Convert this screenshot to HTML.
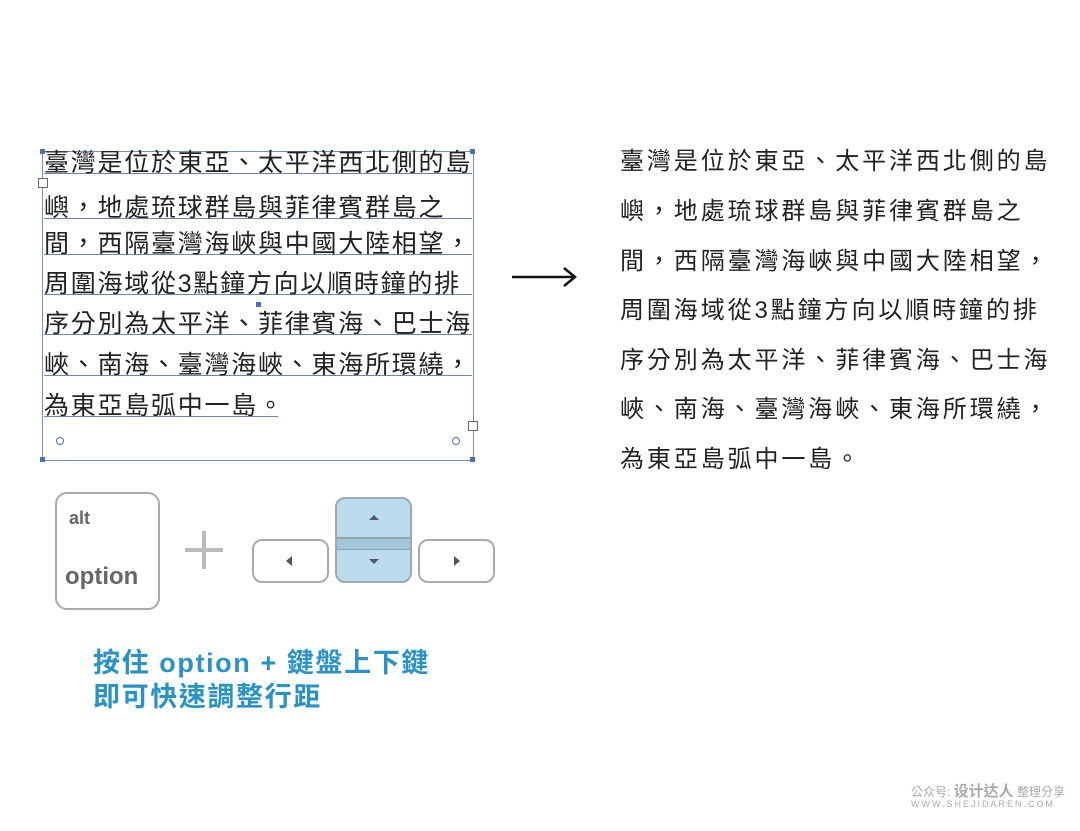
<!DOCTYPE html>
<html><head><meta charset="utf-8"><style>
body{margin:0;width:1080px;height:831px;background:#fff;position:relative;overflow:hidden;font-family:"Liberation Sans","Noto Sans CJK TC",sans-serif}
.a{position:absolute}
.lt div{position:absolute;left:44px;height:20px;line-height:20px;font-size:25px;letter-spacing:1.75px;color:#222;white-space:nowrap;border-bottom:1.5px solid #6f86a8;width:428px}
.rt div{position:absolute;left:620px;font-size:24px;letter-spacing:2.9px;color:#222;white-space:nowrap;line-height:30px}
.h{position:absolute;width:5px;height:5px;background:#4c72b0}
.key{position:absolute;border:2.5px solid #aaa;border-radius:10px;background:#fff;box-sizing:border-box}
</style></head><body>
<div class="a" style="left:42px;top:151px;width:430px;height:308px;border:1px solid #7a90b5"></div>
<div class="h" style="left:40px;top:149px"></div><div class="h" style="left:470px;top:149px"></div>
<div class="h" style="left:40px;top:457px"></div><div class="h" style="left:470px;top:457px"></div>
<div class="h" style="left:256px;top:302px"></div>
<div class="a" style="left:38px;top:178px;width:8px;height:8px;border:1px solid #666;background:#fff"></div>
<div class="a" style="left:468px;top:421px;width:8px;height:8px;border:1px solid #666;background:#fff"></div>
<div class="a" style="left:56px;top:437px;width:6px;height:6px;border:1.5px solid #4c72b0;border-radius:50%"></div>
<div class="a" style="left:452px;top:437px;width:6px;height:6px;border:1.5px solid #4c72b0;border-radius:50%"></div>
<div class="lt">
<div style="top:153px">臺灣是位於東亞、太平洋西北側的島</div>
<div style="top:198px">嶼，地處琉球群島與菲律賓群島之</div>
<div style="top:234px">間，西隔臺灣海峽與中國大陸相望，</div>
<div style="top:274px">周圍海域從3點鐘方向以順時鐘的排</div>
<div style="top:314px">序分別為太平洋、菲律賓海、巴士海</div>
<div style="top:355px">峽、南海、臺灣海峽、東海所環繞，</div>
<div style="top:396px;width:234px">為東亞島弧中一島。</div>
</div>
<div class="rt">
<div style="top:147px">臺灣是位於東亞、太平洋西北側的島</div>
<div style="top:197px">嶼，地處琉球群島與菲律賓群島之</div>
<div style="top:247px">間，西隔臺灣海峽與中國大陸相望，</div>
<div style="top:296px">周圍海域從3點鐘方向以順時鐘的排</div>
<div style="top:346px">序分別為太平洋、菲律賓海、巴士海</div>
<div style="top:395px">峽、南海、臺灣海峽、東海所環繞，</div>
<div style="top:445px">為東亞島弧中一島。</div>
</div>
<svg class="a" style="left:510px;top:264px" width="70" height="26"><line x1="2" y1="13" x2="64" y2="13" stroke="#111" stroke-width="2.5"/><path d="M54 4 L65 13 L54 22" fill="none" stroke="#111" stroke-width="2.5"/></svg>
<div class="key" style="left:55px;top:492px;width:105px;height:118px;border-radius:12px"></div>
<div class="a" style="left:69px;top:508px;font-size:18px;font-weight:bold;color:#666">alt</div>
<div class="a" style="left:65px;top:563px;font-size:24px;font-weight:bold;color:#666">option</div>
<div class="a" style="left:185px;top:548px;width:38px;height:4px;background:#bbb"></div>
<div class="a" style="left:202px;top:531px;width:4px;height:38px;background:#bbb"></div>
<div class="key" style="left:252px;top:539px;width:77px;height:44px"></div>
<div class="key" style="left:418px;top:539px;width:77px;height:44px"></div>
<div class="key" style="left:335px;top:497px;width:77px;height:86px;background:#bcdcee;border-color:#9aabb5"></div>
<div class="a" style="left:337px;top:537px;width:73px;height:10px;background:#a3c6da;border-top:2px solid #8fa5b0;border-bottom:1px solid #8fa5b0"></div>
<div class="a" style="left:286px;top:556px;width:0;height:0;border:5px solid transparent;border-right:6px solid #555;border-left:0"></div>
<div class="a" style="left:454px;top:556px;width:0;height:0;border:5px solid transparent;border-left:6px solid #555;border-right:0"></div>
<div class="a" style="left:369px;top:515px;border:5px solid transparent;border-bottom:5px solid #557;border-top:0"></div>
<div class="a" style="left:369px;top:559px;border:5px solid transparent;border-top:5px solid #557;border-bottom:0"></div>
<div class="a" style="left:93px;top:646px;font-size:27px;line-height:34px;color:#2a93c4;font-weight:bold;letter-spacing:1.6px">按住 option + 鍵盤上下鍵<br>即可快速調整行距</div>
<div class="a" style="left:911px;top:780px;font-size:12px;color:#aaa;white-space:nowrap">公众号: <b style="font-size:15px">设计达人</b> 整理分享</div>
<div class="a" style="left:911px;top:799px;font-size:9px;letter-spacing:2px;color:#aaa">WWW.SHEJIDAREN.COM</div>
</body></html>
